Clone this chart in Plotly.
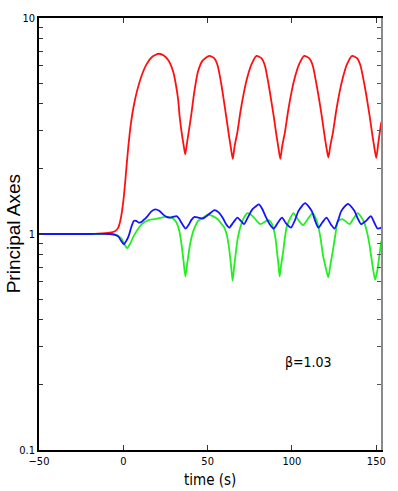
import plotly.graph_objects as go

# ---- data ----
red_t = [-50, -30, -15, -8, -5, -3, -1.5, 0, 1, 2, 3, 4.5, 6, 8, 11, 14, 17, 21, 24,
         26.7, 29.7, 31, 32.5, 33.4, 34.6, 35.7, 36.7, 37.8, 39, 40.3, 42, 44.2, 47, 51,
         54, 56, 58, 59.5, 61, 62.5, 63.8, 64.9, 66, 67.7, 69.5, 71.6, 73.5, 76, 79,
         82, 84, 86, 87.6, 89.2, 90.7, 92, 93.1, 94.2, 95.9, 97.7, 99.8, 101.7, 104.2, 107.3,
         110.3, 112.4, 114.4, 116.1, 117.7, 119.2, 120.5, 121.6, 122.7, 124.4, 126.2, 128.3, 130.2, 132.6, 135.7,
         138.7, 140.7, 142.8, 144.5, 146.1, 147.6, 148.9, 150, 151.1, 152.2, 153]
red_v = [1.0, 1.0, 1.005, 1.015, 1.03, 1.07, 1.18, 1.42, 1.7, 2.1, 2.55, 3.25, 3.85, 4.55, 5.45, 6.15, 6.6, 6.83, 6.7,
         6.37, 5.6, 5.0, 4.2, 3.5, 2.95, 2.6, 2.34, 2.65, 3.05, 3.57, 4.5, 5.63, 6.35, 6.68,
         6.5, 6.0, 5.0, 4.2, 3.5, 2.9, 2.5, 2.23, 2.55, 2.98, 3.7, 4.56, 5.3, 6.1, 6.68,
         6.5, 6.0, 5.0, 4.2, 3.5, 2.9, 2.5, 2.23, 2.55, 2.98, 3.7, 4.56, 5.3, 6.1, 6.68,
         6.5, 6.0, 5.0, 4.2, 3.5, 2.9, 2.5, 2.26, 2.55, 2.98, 3.7, 4.56, 5.3, 6.1, 6.68,
         6.5, 6.0, 5.0, 4.2, 3.5, 2.9, 2.5, 2.25, 2.6, 3.0, 3.3]

green_t = [-50, -20, -8, -5, -3, -1, 0.5, 2.2, 4, 6.2, 8.5, 11, 13, 15, 18, 20.8, 24.7, 28.6, 30, 31.5,
           33, 34.4, 35.7, 36.8, 38, 39.4, 40.8, 42.3, 44.3, 47.2, 50.1, 53, 56, 58, 59.9, 61.5, 62.8,
           63.9, 64.8, 65.7, 66.7, 68, 69.6, 71.5, 73.6, 75.5, 77.5, 79.5, 81.4, 84, 86.3, 88, 89.2,
           90.3, 91.2, 92, 92.7, 93.6, 94.7, 95.8, 97, 98.9, 100.9, 103.5, 106.5, 109.3, 112.3, 114.2,
           115.8, 117.1, 118.5, 120, 121.5, 122.8, 124.4, 125.8, 127.3, 130.2, 134.1, 136.5, 139, 141,
           142.9, 144.5, 145.8, 147.5, 149.3, 150.5, 151.7, 153]
green_v = [1.0, 1.0, 1.0, 0.995, 0.98, 0.95, 0.9, 0.86, 0.9, 0.98, 1.05, 1.11, 1.14, 1.16, 1.17, 1.18, 1.2, 1.19, 1.17, 1.13,
           1.05, 0.91, 0.75, 0.636, 0.74, 0.88, 0.99, 1.07, 1.15, 1.19, 1.23, 1.21, 1.17, 1.12, 1.07, 0.98, 0.85,
           0.71, 0.607, 0.7, 0.82, 0.97, 1.09, 1.19, 1.25, 1.23, 1.19, 1.14, 1.11, 1.14, 1.16, 1.12, 1.05,
           0.95, 0.82, 0.72, 0.636, 0.72, 0.82, 0.96, 1.09, 1.18, 1.25, 1.17, 1.1, 1.17, 1.25, 1.18,
           1.07, 0.94, 0.79, 0.7, 0.63, 0.72, 0.85, 1.0, 1.15, 1.17, 1.11, 1.18, 1.25, 1.2,
           1.13, 1.02, 0.91, 0.74, 0.614, 0.67, 0.78, 0.93]

blue_t = [-50, -20, -8, -5, -3, -1.3, 0.3, 1.8, 3.2, 4.8, 6.2, 7.6, 9.1, 11, 12.5, 14, 16.5, 18.9, 21.3, 23.7,
          25.7, 27.6, 29.5, 31.5, 33, 34.4, 37, 38.7, 40.3, 42.3, 44.5, 47.2, 50.5, 54, 56.5, 58.9, 61, 62.8,
          65.2, 67.7, 69.7, 71.6, 74, 76.5, 80.4, 82.3, 84.3, 86.8, 89.2, 91.7, 94.1, 96.5, 99.4, 101.8, 103.9,
          107.8, 111.7, 113.6, 115.6, 118, 120.5, 123, 125.3, 127.3, 129.3, 133.2, 137, 139, 141, 143.9, 146.8,
          148.8, 150.8, 153]
blue_v = [1.0, 1.0, 1.0, 0.99, 0.975, 0.93, 0.896, 0.93, 0.98, 1.08, 1.15, 1.15, 1.13, 1.14, 1.17, 1.2, 1.27, 1.3, 1.28, 1.23,
          1.2, 1.19, 1.2, 1.21, 1.18, 1.13, 1.06, 1.1, 1.16, 1.2, 1.19, 1.18, 1.23, 1.29, 1.26, 1.19, 1.11, 1.07,
          1.13, 1.19, 1.15, 1.11, 1.2, 1.3, 1.37, 1.31, 1.21, 1.11, 1.06, 1.13, 1.19, 1.12, 1.07, 1.16, 1.28,
          1.39, 1.28, 1.16, 1.07, 1.13, 1.19, 1.11, 1.06, 1.15, 1.28, 1.38, 1.28, 1.18, 1.11, 1.15, 1.21,
          1.13, 1.06, 1.07]

x_ticks = [-50, 0, 50, 100, 150]
y_ticks = [0.1, 0.2, 0.3, 0.4, 0.5, 0.6, 0.7, 0.8, 0.9, 1, 2, 3, 4, 5, 6, 7, 8, 9, 10]
y_labels = ['0.1', '', '', '', '', '', '', '', '', '1', '', '', '', '', '', '', '', '', '10']
beta_label = "β=1.03"

NARROW = "Liberation Sans Narrow, DejaVu Sans Condensed, Roboto Condensed, Liberation Sans, sans-serif"

fig = go.Figure()
for t, v, c in [(red_t, red_v, '#ff1010'), (green_t, green_v, '#22ee22'), (blue_t, blue_v, '#1414ff')]:
    fig.add_trace(go.Scatter(x=t, y=v, mode='lines', line=dict(color=c, width=1.8, shape='spline', smoothing=0.6),
                             showlegend=False, hoverinfo='skip'))
# invisible trace for the right-hand axis
fig.add_trace(go.Scatter(x=[-50], y=[1], yaxis='y2', mode='markers', marker=dict(opacity=0),
                         showlegend=False, hoverinfo='skip'))

fig.update_layout(
    width=398, height=491,
    margin=dict(l=39, r=13, t=16, b=41),
    paper_bgcolor='white', plot_bgcolor='white',
    font=dict(family=NARROW, size=11, color='black'),
    xaxis=dict(range=[-50, 152.8], tickvals=x_ticks, ticks='inside', ticklen=5, tickcolor='#333',
               showline=True, linecolor='black', linewidth=1.5, mirror='ticks', showgrid=False,
               zeroline=False, tickfont=dict(family=NARROW, size=11)),
    yaxis=dict(type='log', range=[-1, 1], tickvals=y_ticks, ticktext=y_labels, ticks='inside', ticklen=4,
               tickcolor='#333', showline=True, linecolor='black', linewidth=1.5, showgrid=False,
               zeroline=False, tickfont=dict(family=NARROW, size=11)),
    yaxis2=dict(type='log', range=[-1, 1], overlaying='y', side='right', tickvals=y_ticks, ticks='inside',
                ticklen=4, tickcolor='#555', showticklabels=False, showline=True, linecolor='#8a8a8a',
                linewidth=2, showgrid=False, zeroline=False),
    annotations=[
        dict(text="Principal Axes", xref='paper', yref='paper', x=(13 - 39) / 346, y=0.5, textangle=-90,
             showarrow=False, font=dict(family="Liberation Sans, Arial, sans-serif", size=19),
             xanchor='center', yanchor='middle'),
        dict(text="time (s)", xref='paper', yref='paper', x=0.5, y=(450 - 480) / 434, showarrow=False,
             font=dict(family=NARROW, size=15), xanchor='center', yanchor='middle'),
        dict(text=beta_label, xref='x', yref='y', x=110, y=-0.594, showarrow=False,
             font=dict(family=NARROW, size=14), xanchor='center', yanchor='middle'),
    ],
)

fig.write_html("out.html", config={'displayModeBar': False},
               post_script="document.body.style.margin='0';")
